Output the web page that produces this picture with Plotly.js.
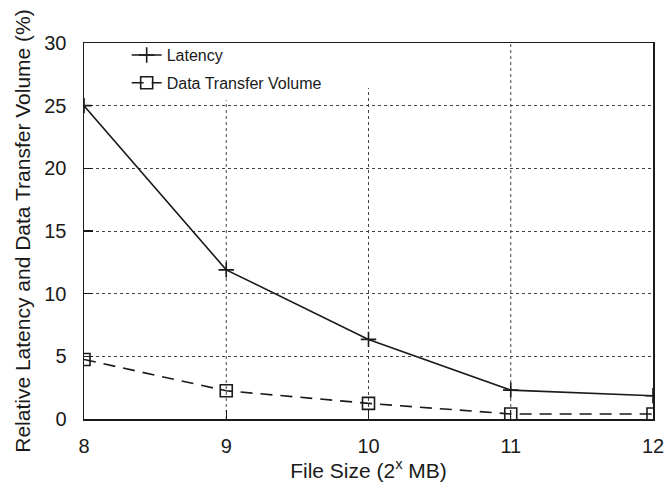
<!DOCTYPE html>
<html><head><meta charset="utf-8">
<script src="https://cdn.plot.ly/plotly-3.0.1.min.js"></script>
<style>html,body{margin:0;padding:0;background:#fff}#c{width:664px;height:486px}</style>
</head><body><div id="c"></div>
<script>
const fileSizes = [8, 9, 10, 11, 12];
const latency = [25.0, 11.9, 6.35, 2.3, 1.85];
const transferVolume = [4.75, 2.25, 1.25, 0.4, 0.4];
const seriesNames = ['Latency', 'Data Transfer Volume'];

const FONT = 'Liberation Sans, Arial, sans-serif';
const INK = '#1a1a1a';
const GRID = '#444';
const traces = [
  {x: fileSizes, y: latency, name: seriesNames[0], legendgroup: 'a', mode: 'lines+markers',
   line: {color: INK, width: 1.6},
   marker: {symbol: 'cross-thin-open', size: 11, color: INK, line: {color: INK, width: 1.6}}},
  {x: fileSizes, y: transferVolume, name: seriesNames[1], legendgroup: 'b', mode: 'lines+markers',
   line: {color: INK, width: 1.6, dash: '12px,8px'},
   marker: {symbol: 'square-open', size: 12, color: INK, line: {color: INK, width: 1.6}}}
];
const axisCommon = {
  showline: true, mirror: true, linecolor: INK, linewidth: 1.5,
  ticks: 'inside', ticklen: 9, tickwidth: 1.2, tickcolor: INK,
  showgrid: true, gridcolor: GRID, griddash: 'dot', gridwidth: 1,
  zeroline: false, ticklabeloverflow: 'allow',
  tickfont: {family: FONT, size: 20, color: INK}
};
// vertical grid lines: the legend box hides their upper part (domain fraction where each stops)
const legendClip = {9: 0.848, 10: 0.88};
const vGrid = fileSizes.slice(1, -1).map(v => ({
  type: 'line', layer: 'below', xref: 'x', yref: 'y domain',
  x0: v, x1: v, y0: 0, y1: legendClip[v] !== undefined ? legendClip[v] : 1,
  line: {color: GRID, width: 1, dash: 'dot'}
}));
const layout = {
  width: 664, height: 486,
  margin: {l: 84, r: 11, t: 43, b: 67},
  paper_bgcolor: '#fff', plot_bgcolor: '#fff',
  showlegend: true,
  legend: {x: 0.075, y: 1.013, xanchor: 'left', yanchor: 'top', bgcolor: 'rgba(0,0,0,0)',
    traceorder: 'grouped', tracegroupgap: 4,
    font: {family: FONT, size: 16, color: INK}},
  shapes: vGrid,
  xaxis: Object.assign({}, axisCommon, {range: [fileSizes[0], fileSizes[fileSizes.length - 1]],
    tickvals: fileSizes, ticktext: fileSizes.map(String), showgrid: false,
    ticklabelstandoff: 8,
    title: {text: 'File Size (2<sup>x</sup> MB)', font: {family: FONT, size: 21, color: INK}, standoff: 4}}),
  yaxis: Object.assign({}, axisCommon, {range: [0, 30], dtick: 5, ticklabelstandoff: 12,
    title: {text: 'Relative Latency and Data Transfer Volume (%)', font: {family: FONT, size: 21, color: INK}, standoff: 8}})
};
Plotly.newPlot('c', traces, layout, {displayModeBar: false, staticPlot: true});
</script></body></html>
